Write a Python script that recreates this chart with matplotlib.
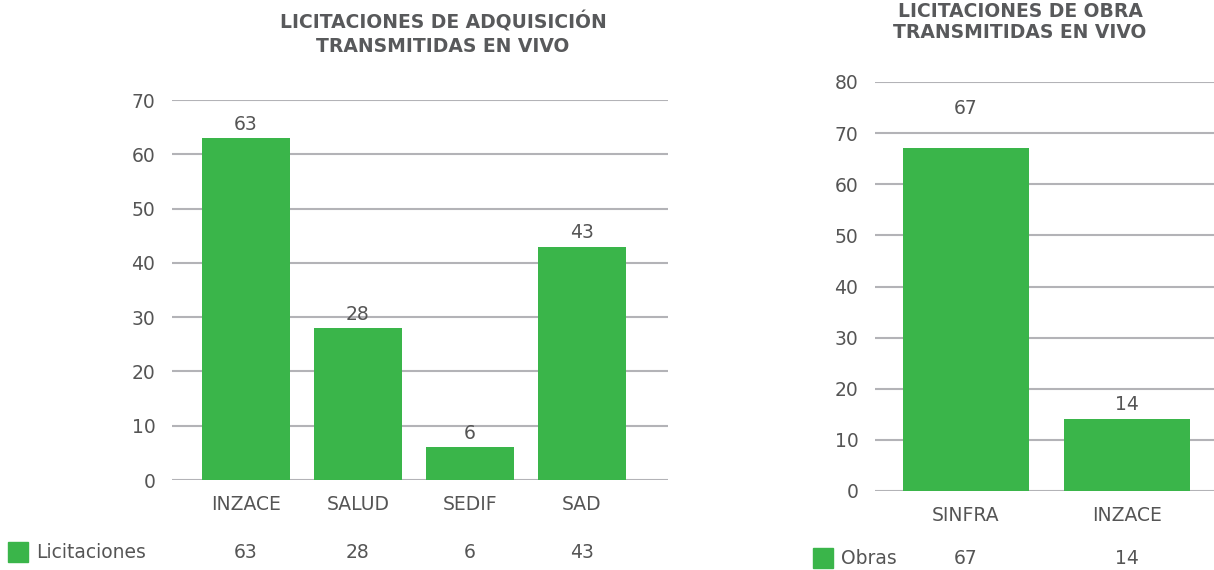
import matplotlib.pyplot as plt
from matplotlib.transforms import blended_transform_factory
from matplotlib.patches import Rectangle

# Data
adq_labels = ["INZACE", "SALUD", "SEDIF", "SAD"]
adq_values = [63, 28, 6, 43]
obra_labels = ["SINFRA", "INZACE"]
obra_values = [67, 14]

green = "#3ab54a"
grid_gray = "#b3b3b7"
text_gray = "#555555"
title_gray = "#58595b"
fs = 13.5

plt.rcParams['font.family'] = ['DejaVu Sans']

fig = plt.figure(figsize=(12.14, 5.7), dpi=100)


def draw_panel(ax, labels, values, ymax, xlim, width, row_name, row_y, sq_x, offsets):
    x = range(len(labels))
    ax.set_xlim(*xlim)
    ax.set_ylim(0, ymax)
    ax.set_yticks(range(0, ymax + 1, 10))
    ax.yaxis.grid(True, color=grid_gray, linewidth=1.5)
    ax.set_axisbelow(True)
    bars = ax.bar(x, values, width=width, color=green, zorder=3)
    for bar, v, off in zip(bars, values, offsets):
        ax.annotate(str(v), (bar.get_x() + bar.get_width() / 2, v),
                    xytext=(0, off), textcoords="offset points",
                    ha="center", va="bottom", fontsize=fs, color=text_gray)
    for s in ax.spines.values():
        s.set_visible(False)
    ax.tick_params(axis="both", length=0, labelsize=fs, labelcolor=text_gray)
    ax.tick_params(axis="y", pad=12)
    ax.tick_params(axis="x", pad=11)
    ax.set_xticks(list(x))
    ax.set_xticklabels(labels)

    # data row under the chart
    trans = blended_transform_factory(ax.transData, fig.transFigure)
    for i, v in enumerate(values):
        ax.text(i, row_y, str(v), transform=trans, ha="center", va="center",
                fontsize=fs, color=text_gray)
    fig.patches.append(Rectangle((sq_x, row_y - 10 / 570), 20 / 1214, 20 / 570,
                                 transform=fig.transFigure, color=green))
    fig.text(sq_x + 28 / 1214, row_y, row_name, ha="left", va="center",
             fontsize=fs, color=text_gray)


ax1 = fig.add_axes([172 / 1214, 90 / 570, 496 / 1214, 380 / 570])
draw_panel(ax1, adq_labels, adq_values, 70, (-0.66, 3.77), 0.786,
           "Licitaciones", 1 - 552 / 570, 8 / 1214, [3, 3, 3, 3])

ax2 = fig.add_axes([875 / 1214, 79 / 570, 339 / 1214, 409 / 570])
draw_panel(ax2, obra_labels, obra_values, 80, (-0.565, 1.54), 0.783,
           "Obras", 1 - 558 / 570, 813 / 1214, [22, 4])

fig.text(443 / 1214, 1 - 34 / 570, "LICITACIONES DE ADQUISICIÓN\nTRANSMITIDAS EN VIVO",
         ha="center", va="center", fontsize=13.5, fontweight="bold",
         color=title_gray, linespacing=1.3)
fig.text(1020 / 1214, 1 - 22 / 570, "LICITACIONES DE OBRA\nTRANSMITIDAS EN VIVO",
         ha="center", va="center", fontsize=13.5, fontweight="bold",
         color=title_gray, linespacing=1.15)

fig.savefig("out.png", dpi=100)
